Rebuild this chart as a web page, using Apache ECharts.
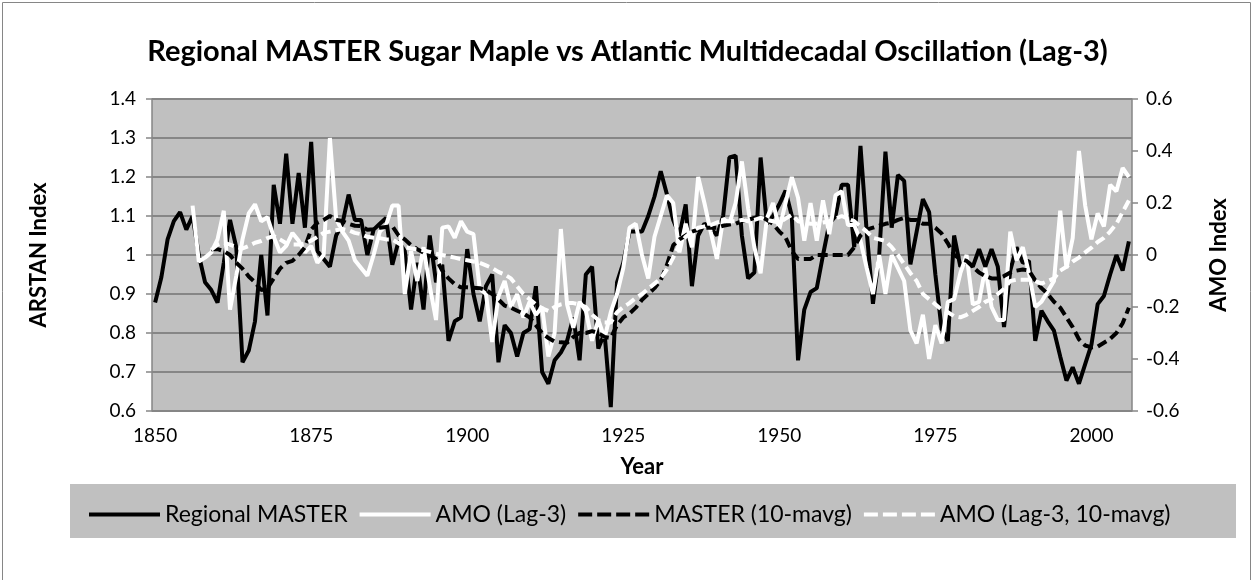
<!DOCTYPE html>
<html>
<head>
<meta charset="utf-8">
<script src="https://cdn.jsdelivr.net/npm/echarts@6/dist/echarts.min.js"></script>
<style>
  html, body { margin: 0; padding: 0; background: #fff; }
  #chart { width: 1255px; height: 580px; }
</style>
</head>
<body>
<div id="chart"></div>
<script>
// years 1850..2006 on the category axis
var years = [];
for (var y = 1850; y <= 2006; y++) years.push(String(y));

var leftTicks = [0.6, 0.7, 0.8, 0.9, 1, 1.1, 1.2, 1.3, 1.4];
var rightTicks = [-0.6, -0.4, -0.2, 0, 0.2, 0.4, 0.6];

// Regional MASTER (ARSTAN index, left axis)
var master = [
    0.878, 0.943, 1.04, 1.087, 1.11, 1.065, 1.10, 1.0, 0.93, 0.91,
    0.878, 0.98, 1.09, 1.02, 0.725, 0.755, 0.83, 1.0, 0.845, 1.18,
    1.08, 1.26, 1.08, 1.21, 1.07, 1.29, 1.01, 0.99, 0.97, 1.05,
    1.08, 1.155, 1.09, 1.09, 1.0, 1.065, 1.08, 1.095, 0.975, 1.035,
    1.01, 0.86, 0.98, 0.86, 1.05, 0.93, 0.975, 0.78, 0.83, 0.84,
    1.015, 0.9, 0.83, 0.92, 0.95, 0.725, 0.82, 0.80, 0.74, 0.80,
    0.81, 0.92, 0.70, 0.67, 0.73, 0.75, 0.78, 0.84, 0.73, 0.95,
    0.97, 0.76, 0.80, 0.61, 0.93, 0.98, 1.06, 1.06, 1.06, 1.10,
    1.15, 1.215, 1.155, 1.09, 1.05, 1.13, 0.92, 1.05, 1.08, 1.07,
    1.05, 1.10, 1.25, 1.255, 1.05, 0.94, 0.955, 1.25, 1.08, 1.10,
    1.13, 1.165, 1.1, 0.73, 0.86, 0.905, 0.915, 1.0, 1.08, 1.10,
    1.18, 1.18, 1.02, 1.28, 1.06, 0.875, 1.0, 1.265, 1.07, 1.205,
    1.19, 0.976, 1.06, 1.143, 1.11, 0.95, 0.81, 0.78, 1.05, 0.97,
    0.985, 0.97, 1.015, 0.97, 1.015, 0.97, 0.815, 0.96, 1.02, 0.98,
    0.985, 0.78, 0.857, 0.83, 0.806, 0.74, 0.678, 0.712, 0.67, 0.72,
    0.77, 0.874, 0.895, 0.95, 1.0, 0.96, 1.035
];

// AMO (Lag-3), right axis
var amo = [
    null, null, null, null, null, null, 0.19, -0.025, -0.01, 0.01,
    0.06, 0.17, -0.21, -0.08, 0.06, 0.16, 0.195, 0.13, 0.145, 0.07,
    0.01, 0.035, 0.085, 0.055, 0.01, 0.035, -0.03, 0.0, 0.45, 0.14,
    0.09, 0.055, -0.02, -0.05, -0.08, 0.0, 0.09, 0.115, 0.19, 0.19,
    -0.15, 0.015, -0.1, 0.03, -0.12, -0.25, 0.105, 0.11, 0.066, 0.13,
    0.09, 0.08, -0.13, -0.15, -0.335, -0.16, -0.1, -0.2, -0.15, -0.24,
    -0.18, -0.23, -0.2, -0.39, -0.3, 0.1, -0.19, -0.28, -0.18, -0.215,
    -0.33, -0.25, -0.32, -0.22, -0.15, -0.05, 0.105, 0.12, 0.0, -0.09,
    0.07, 0.15, 0.23, 0.2, 0.01, 0.12, 0.03, 0.3, 0.2, 0.09,
    -0.015, 0.14, 0.12, 0.2, 0.36, 0.18, 0.03, -0.07, 0.14, 0.2,
    0.1, 0.2, 0.3, 0.22, 0.055, 0.2, 0.055, 0.21, 0.08, 0.23,
    0.245, 0.115, 0.115, 0.055, -0.05, -0.15, 0.0, -0.15, 0.0, -0.05,
    -0.1, -0.29, -0.34, -0.23, -0.4, -0.27, -0.34, -0.18, -0.17, -0.07,
    0.0, -0.19, -0.18, -0.05, -0.2, -0.25, -0.25, 0.09, -0.02, 0.03,
    -0.07, -0.2, -0.18, -0.14, -0.1, 0.17, -0.05, 0.065, 0.4, 0.19,
    0.06, 0.16, 0.11, 0.27, 0.245, 0.335, 0.3
];

// MASTER (10-mavg), left axis
var masterAvg = [
    null, null, null, null, null, null, null, null, null, 1.015,
    1.015, 1.01, 1.0, 0.98, 0.965, 0.945, 0.93, 0.91, 0.915, 0.94,
    0.965, 0.98, 0.985, 1.0, 1.02, 1.065, 1.083, 1.09, 1.1, 1.09,
    1.087, 1.08, 1.075, 1.074, 1.065, 1.066, 1.07, 1.072, 1.074, 1.05,
    1.04, 1.025, 1.015, 1.006, 1.0, 0.99, 0.96, 0.94, 0.925, 0.917,
    0.917, 0.916, 0.915, 0.91, 0.9, 0.886, 0.87, 0.865, 0.857, 0.85,
    0.84, 0.82, 0.8, 0.787, 0.778, 0.776, 0.775, 0.79, 0.8, 0.8,
    0.805, 0.8, 0.79, 0.787, 0.82, 0.84, 0.85, 0.865, 0.885, 0.9,
    0.915, 0.935, 0.975, 1.025, 1.04, 1.05, 1.06, 1.065, 1.07, 1.07,
    1.07, 1.075, 1.078, 1.08, 1.087, 1.09, 1.095, 1.1, 1.09, 1.08,
    1.06, 1.045, 1.01, 0.99, 0.99, 0.99, 1.0, 1.0, 1.0, 1.0,
    1.0, 1.0, 1.02, 1.05, 1.065, 1.07, 1.075, 1.08, 1.083, 1.09,
    1.095, 1.09, 1.09, 1.08, 1.08, 1.07, 1.055, 1.03, 1.0, 0.99,
    0.985, 0.97, 0.955, 0.946, 0.94, 0.94, 0.946, 0.955, 0.96, 0.963,
    0.96, 0.935, 0.915, 0.9, 0.88, 0.865, 0.84, 0.815, 0.784, 0.768,
    0.763, 0.765, 0.775, 0.785, 0.8, 0.825, 0.865
];

// AMO (Lag-3, 10-mavg), right axis
var amoAvg = [
    null, null, null, null, null, null, null, null, null, 0.02,
    0.04, 0.047, 0.04, 0.03, 0.025, 0.035, 0.047, 0.054, 0.065, 0.073,
    0.06, 0.045, 0.04, 0.04, 0.045, 0.055, 0.07, 0.085, 0.09, 0.095,
    0.1, 0.095, 0.085, 0.08, 0.07, 0.066, 0.065, 0.06, 0.06, 0.045,
    0.03, 0.025, 0.022, 0.018, 0.012, 0.005, 0.0, -0.005, -0.01, -0.016,
    -0.02, -0.025, -0.03, -0.04, -0.05, -0.065, -0.075, -0.09, -0.12, -0.15,
    -0.17, -0.19, -0.205, -0.215, -0.2, -0.19, -0.185, -0.185, -0.19, -0.2,
    -0.23, -0.25, -0.26, -0.26, -0.22, -0.2, -0.185, -0.165, -0.15, -0.13,
    -0.11, -0.09, -0.055, -0.01, 0.04, 0.07, 0.09, 0.105, 0.11, 0.115,
    0.125, 0.13, 0.13, 0.13, 0.135, 0.13, 0.135, 0.143, 0.135, 0.13,
    0.125, 0.14, 0.155, 0.13, 0.125, 0.12, 0.12, 0.125, 0.13, 0.14,
    0.15, 0.14, 0.13, 0.11, 0.09, 0.066, 0.06, 0.054, 0.03, 0.0,
    -0.035, -0.07, -0.1, -0.15, -0.17, -0.19, -0.21, -0.22, -0.235, -0.24,
    -0.23, -0.215, -0.2, -0.18, -0.17, -0.15, -0.13, -0.1, -0.095, -0.095,
    -0.095, -0.1, -0.11, -0.1, -0.09, -0.06, -0.045, -0.025, -0.01, 0.01,
    0.028, 0.05, 0.066, 0.09, 0.12, 0.165, 0.21
];

var FONT = 'Lato';
var GRID = '#868686';
// legend keys drawn as plain bars (solid) or four dashes
var ICON_SOLID = 'path://M0,0H71V4H0Z';
var ICON_DASH = 'path://M0,0H14V4H0ZM19,0H33V4H19ZM38,0H52V4H38ZM57,0H71V4H57Z';

var chart = echarts.init(document.getElementById('chart'));

function tickFmt(v) {
    return String(+v.toFixed(1));
}

var axisName = { fontFamily: FONT, fontSize: 22, fontWeight: 'bold', color: '#000' };

var option = {
    animation: false,
    backgroundColor: '#ffffff',
    textStyle: { fontFamily: FONT, color: '#000' },
    title: {
        text: 'Regional MASTER Sugar Maple vs Atlantic Multidecadal Oscillation (Lag-3)',
        left: 'center',
        top: 32,
        textStyle: { fontFamily: FONT, fontSize: 29, fontWeight: 'bold', color: '#000' }
    },
    graphic: [
        {   // chart area border
            type: 'rect', z: -10, silent: true,
            shape: { x: 2.5, y: 2.5, width: 1248, height: 600 },
            style: { fill: '#fff', stroke: GRID, lineWidth: 1 }
        },
        {   // legend box
            type: 'rect', z: 0, silent: true,
            shape: { x: 70, y: 484, width: 1166, height: 54 },
            style: { fill: '#c0c0c0' }
        }
    ],
    legend: {
        left: 84,
        top: 498,
        itemWidth: 71,
        itemHeight: 4,
        itemGap: 12,
        z: 5,
        textStyle: { fontFamily: FONT, fontSize: 23, color: '#000' },
        data: [
            { name: 'Regional MASTER', icon: ICON_SOLID },
            { name: 'AMO (Lag-3)', icon: ICON_SOLID },
            { name: 'MASTER (10-mavg)', icon: ICON_DASH },
            { name: 'AMO (Lag-3, 10-mavg)', icon: ICON_DASH }
        ]
    },
    grid: {
        left: 152, right: 123, top: 99, bottom: 169,
        show: true, backgroundColor: '#c0c0c0', borderWidth: 0
    },
    xAxis: {
        type: 'category',
        data: years,
        boundaryGap: true,
        name: 'Year',
        nameLocation: 'middle',
        nameGap: 45,
        nameTextStyle: axisName,
        axisLine: { lineStyle: { color: GRID, width: 1.5 } },
        axisTick: { interval: 24, length: 6, lineStyle: { color: GRID, width: 1.5 } },
        axisLabel: { interval: 24, margin: 15, fontSize: 19, color: '#000', fontFamily: FONT },
        splitLine: { show: false }
    },
    yAxis: [
        {
            type: 'value',
            min: leftTicks[0], max: leftTicks[leftTicks.length - 1], interval: 0.1,
            name: 'ARSTAN Index',
            nameLocation: 'middle',
            nameGap: 102,
            nameTextStyle: axisName,
            axisLine: { show: true, lineStyle: { color: GRID, width: 1.5 } },
            axisTick: { show: true, length: 6, lineStyle: { color: GRID, width: 1.5 } },
            axisLabel: { formatter: tickFmt, margin: 16, fontSize: 19, color: '#000', fontFamily: FONT },
            splitLine: { show: true, lineStyle: { color: GRID, width: 2 } }
        },
        {
            type: 'value',
            min: rightTicks[0], max: rightTicks[rightTicks.length - 1], interval: 0.2,
            position: 'right',
            name: 'AMO Index',
            nameLocation: 'middle',
            nameGap: 76,
            nameTextStyle: axisName,
            axisLine: { show: true, lineStyle: { color: GRID, width: 1.5 } },
            axisTick: { show: true, length: 6, lineStyle: { color: GRID, width: 1.5 } },
            axisLabel: { formatter: tickFmt, margin: 14, fontSize: 19, color: '#000', fontFamily: FONT },
            splitLine: { show: false }
        }
    ],
    series: [
        {
            name: 'Regional MASTER', type: 'line', yAxisIndex: 0,
            data: master, symbol: 'none', showSymbol: false,
            lineStyle: { color: '#000', width: 4 }, itemStyle: { color: '#000' }
        },
        {
            name: 'AMO (Lag-3)', type: 'line', yAxisIndex: 1,
            data: amo, symbol: 'none', showSymbol: false,
            lineStyle: { color: '#fff', width: 4 }, itemStyle: { color: '#fff' }
        },
        {
            name: 'MASTER (10-mavg)', type: 'line', yAxisIndex: 0,
            data: masterAvg, symbol: 'none', showSymbol: false,
            lineStyle: { color: '#000', width: 4, type: [10, 5] }, itemStyle: { color: '#000' }
        },
        {
            name: 'AMO (Lag-3, 10-mavg)', type: 'line', yAxisIndex: 1,
            data: amoAvg, symbol: 'none', showSymbol: false,
            lineStyle: { color: '#fff', width: 4, type: [10, 5] }, itemStyle: { color: '#fff' }
        }
    ]
};

chart.setOption(option);
</script>
</body>
</html>
